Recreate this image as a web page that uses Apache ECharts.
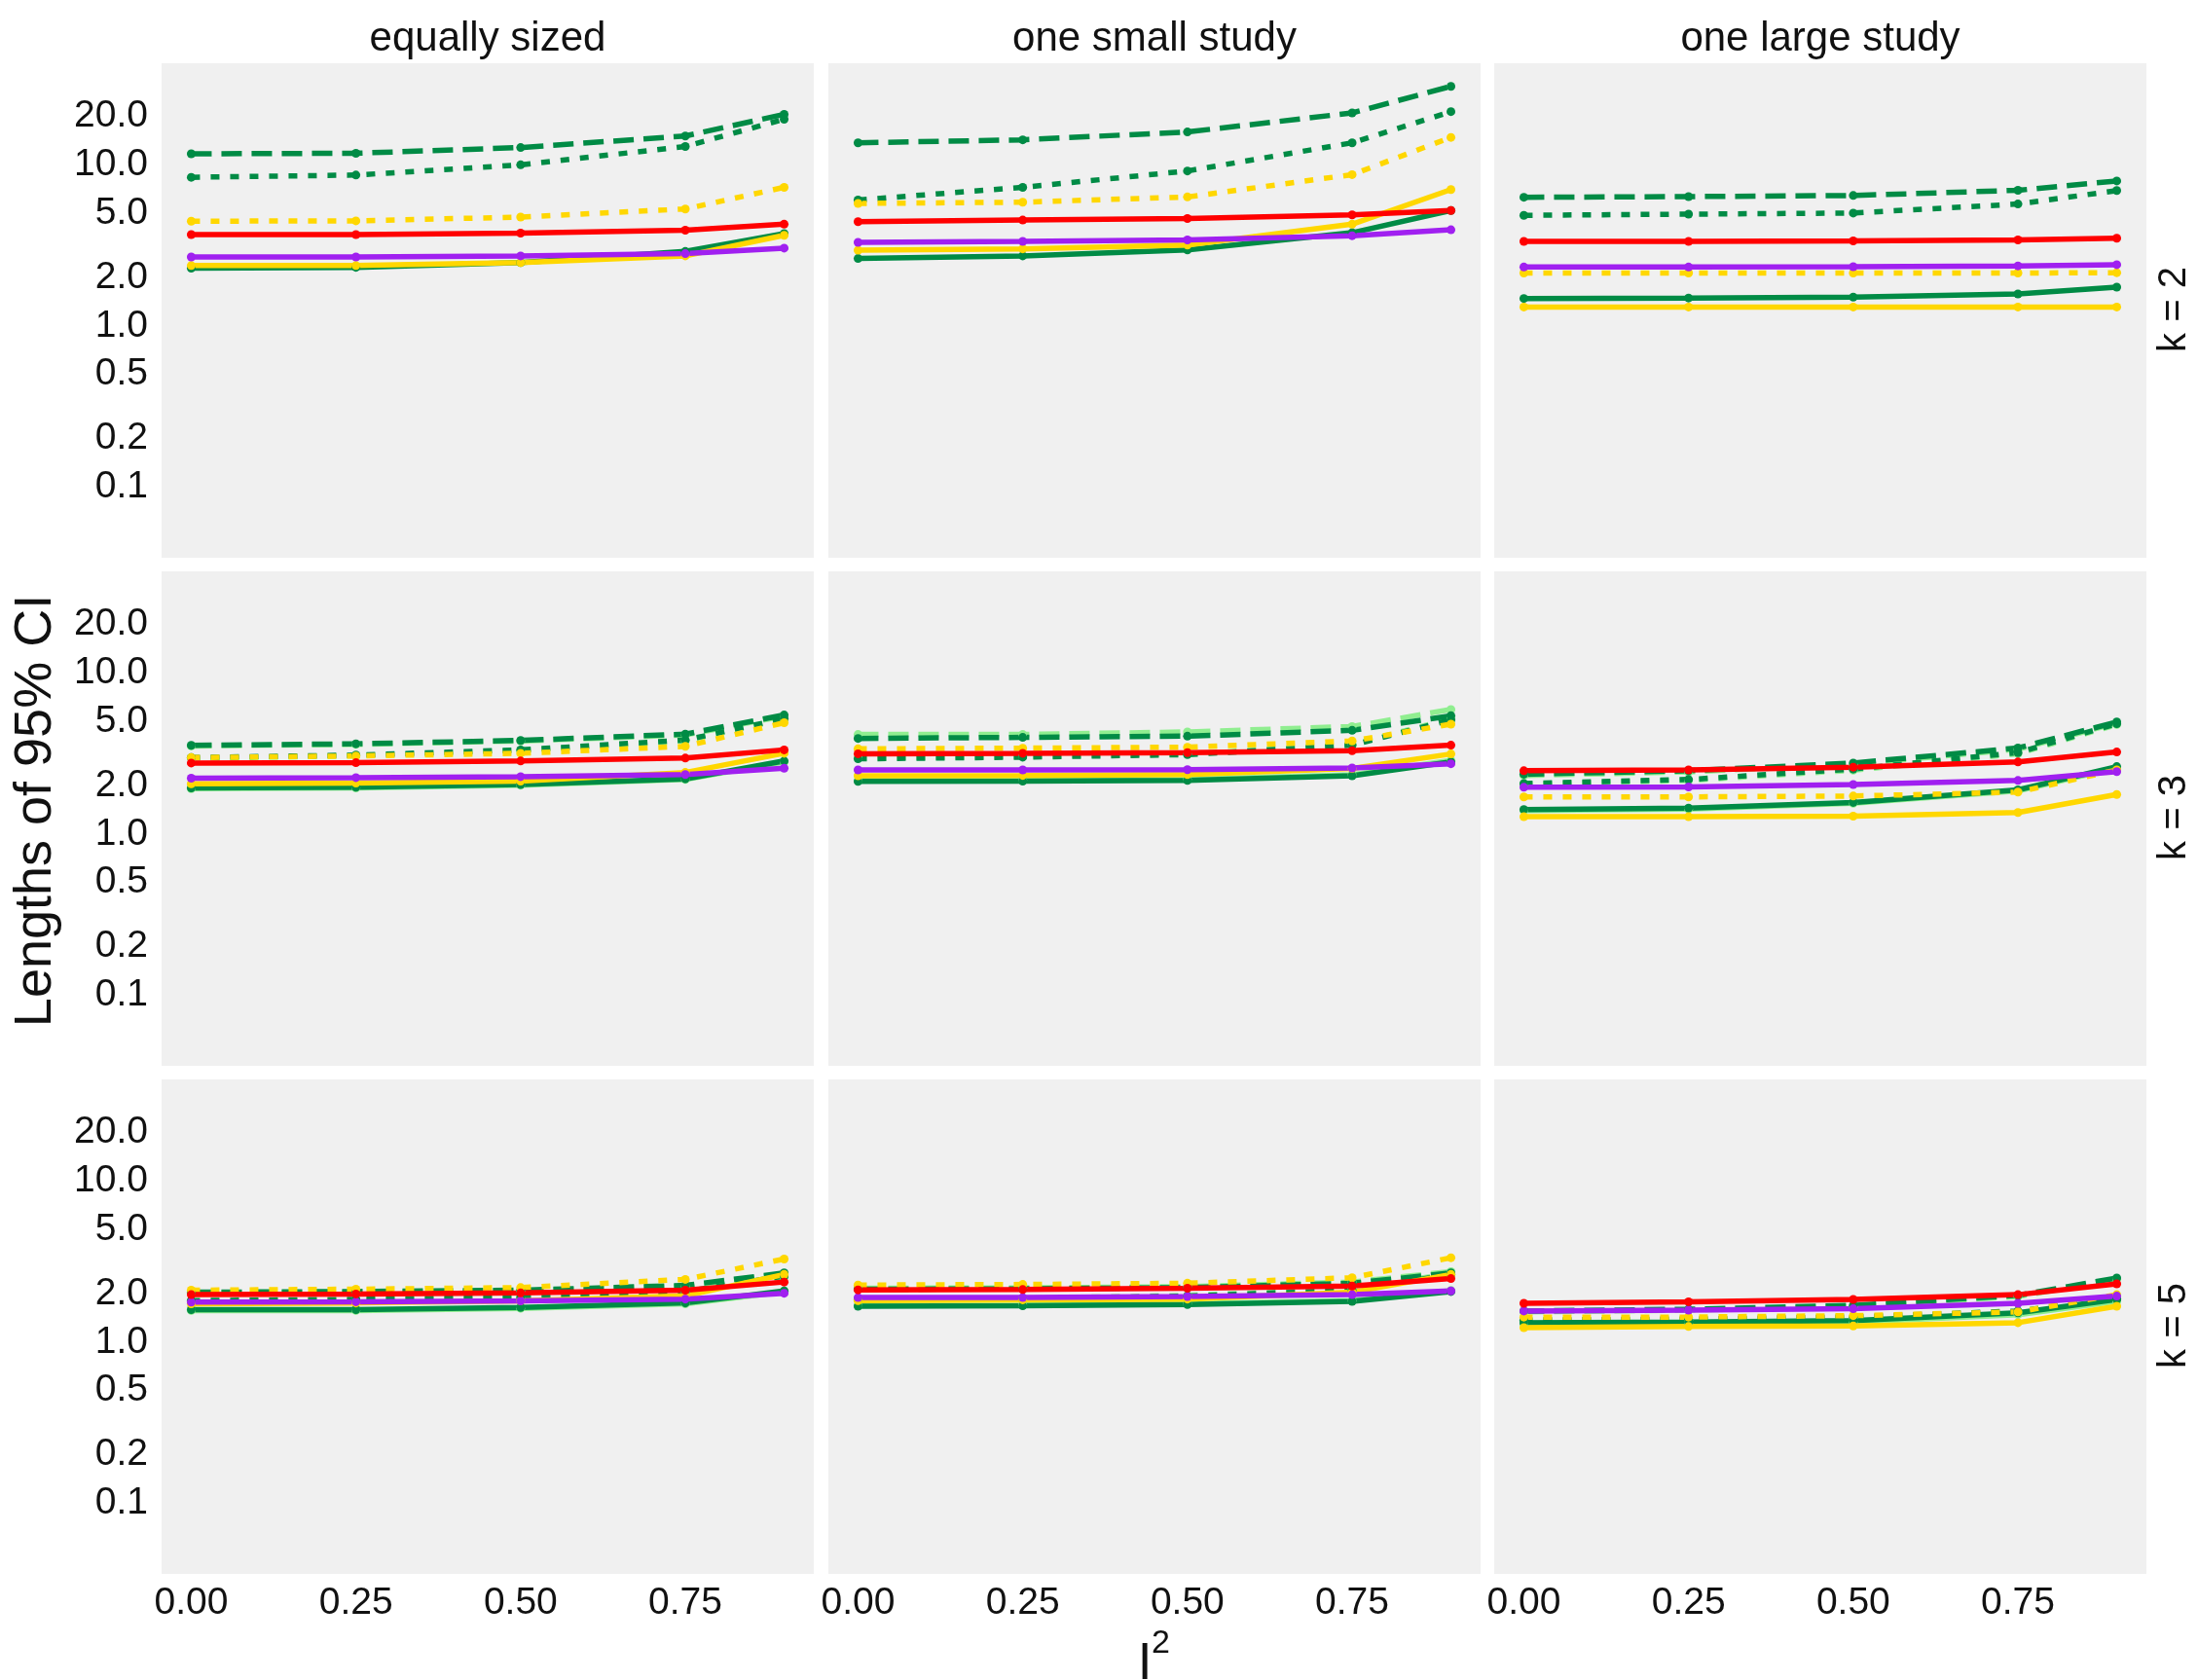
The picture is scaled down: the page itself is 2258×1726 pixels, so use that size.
<!DOCTYPE html>
<html><head><meta charset="utf-8">
<script src="https://cdn.jsdelivr.net/npm/echarts@6/dist/echarts.min.js"></script>
<style>html,body{margin:0;padding:0;background:#fff}#c{width:2258px;height:1726px}</style>
</head><body><div id="c"></div><script>
// ---- data ----
const xValues = [0, 0.25, 0.5, 0.75, 0.9];
const xTickValues = [0, 0.25, 0.5, 0.75];
const yTickValues = [0.1, 0.2, 0.5, 1, 2, 5, 10, 20];
const designLabels = ['equally sized', 'one small study', 'one large study'];
const kLabels = ['k = 2', 'k = 3', 'k = 5'];
// panel order: k=2 (equally, small, large), k=3 (...), k=5 (...)
const darkGreenDashed = [
  [11.7, 11.8, 12.8, 15.1, 20.6], [13.7, 14.3, 16.0, 21.0, 30.7], [6.29, 6.35, 6.45, 6.95, 7.94],
  [3.55, 3.63, 3.81, 4.17, 5.48], [3.92, 3.98, 4.05, 4.40, 5.42], [2.35, 2.47, 2.76, 3.42, 4.96],
  [2.04, 2.06, 2.10, 2.25, 2.69], [2.13, 2.14, 2.18, 2.32, 2.69], [1.56, 1.60, 1.69, 1.95, 2.50]
];
const darkGreenDotted = [
  [8.37, 8.64, 10.0, 13.0, 19.2], [6.05, 7.25, 9.16, 13.7, 21.4], [4.86, 4.94, 5.02, 5.71, 6.92],
  [2.98, 3.09, 3.33, 3.83, 5.21], [2.93, 3.00, 3.11, 3.56, 5.11], [2.06, 2.18, 2.53, 3.20, 4.84],
  [1.81, 1.84, 1.90, 2.06, 2.57], [1.83, 1.85, 1.93, 2.10, 2.63], [1.37, 1.39, 1.43, 1.56, 1.86]
];
const darkGreenSolid = [
  [2.28, 2.31, 2.47, 2.90, 3.74], [2.62, 2.72, 2.96, 3.79, 5.21], [1.48, 1.49, 1.51, 1.58, 1.74],
  [1.93, 1.95, 2.03, 2.20, 2.84], [2.12, 2.13, 2.15, 2.30, 2.80], [1.42, 1.45, 1.57, 1.88, 2.62],
  [1.59, 1.59, 1.64, 1.75, 2.08], [1.67, 1.68, 1.71, 1.79, 2.06], [1.32, 1.33, 1.36, 1.52, 1.84]
];
const lightGreenDashed = [
  null, null, null,
  [3.52, 3.60, 3.78, 4.12, 5.40], [4.15, 4.15, 4.30, 4.65, 5.93], [2.31, 2.43, 2.71, 3.36, 4.88],
  [2.02, 2.04, 2.08, 2.22, 2.65], [2.16, 2.17, 2.21, 2.36, 2.74], [1.54, 1.58, 1.66, 1.92, 2.46]
];
const lightGreenDotted = [
  null, null, null,
  [2.95, 3.06, 3.30, 3.79, 5.15], [2.96, 3.03, 3.14, 3.60, 5.20], [2.03, 2.15, 2.49, 3.15, 4.78],
  [1.79, 1.82, 1.88, 2.03, 2.53], [1.85, 1.87, 1.95, 2.13, 2.67], [1.35, 1.37, 1.41, 1.53, 1.82]
];
const lightGreenSolid = [
  null, null, null,
  [1.91, 1.93, 2.01, 2.18, 2.80], [2.15, 2.16, 2.18, 2.33, 2.86], [1.40, 1.43, 1.55, 1.85, 2.58],
  [1.57, 1.57, 1.62, 1.73, 2.05], [1.69, 1.70, 1.73, 1.81, 2.09], [1.30, 1.31, 1.33, 1.48, 1.79]
];
const goldDotted = [
  [4.47, 4.49, 4.74, 5.32, 7.25], [5.76, 5.86, 6.32, 8.69, 14.8], [2.13, 2.13, 2.13, 2.13, 2.14],
  [2.98, 3.05, 3.17, 3.50, 4.91], [3.38, 3.41, 3.46, 3.78, 4.81], [1.70, 1.70, 1.72, 1.82, 2.50],
  [2.10, 2.13, 2.18, 2.45, 3.28], [2.26, 2.28, 2.32, 2.51, 3.34], [1.43, 1.43, 1.46, 1.54, 1.97]
];
const goldSolid = [
  [2.37, 2.37, 2.47, 2.72, 3.65], [2.95, 3.01, 3.18, 4.28, 7.02], [1.31, 1.31, 1.31, 1.31, 1.31],
  [2.05, 2.07, 2.13, 2.41, 3.17], [2.30, 2.31, 2.34, 2.55, 3.14], [1.28, 1.28, 1.29, 1.36, 1.76],
  [1.73, 1.75, 1.80, 1.94, 2.63], [1.81, 1.83, 1.85, 2.04, 2.63], [1.23, 1.25, 1.26, 1.32, 1.67]
];
const purpleSolid = [
  [2.68, 2.68, 2.72, 2.81, 3.04], [3.30, 3.35, 3.42, 3.63, 3.95], [2.32, 2.32, 2.33, 2.36, 2.40],
  [2.22, 2.24, 2.27, 2.34, 2.56], [2.50, 2.50, 2.51, 2.57, 2.73], [1.95, 1.96, 2.03, 2.15, 2.44],
  [1.77, 1.78, 1.80, 1.85, 2.01], [1.89, 1.89, 1.92, 1.97, 2.08], [1.56, 1.58, 1.61, 1.74, 1.93]
];
const redSolid = [
  [3.69, 3.69, 3.77, 3.93, 4.28], [4.44, 4.54, 4.64, 4.89, 5.21], [3.35, 3.35, 3.37, 3.42, 3.50],
  [2.76, 2.77, 2.84, 2.96, 3.33], [3.15, 3.17, 3.20, 3.29, 3.56], [2.47, 2.50, 2.60, 2.80, 3.23],
  [1.97, 1.99, 2.02, 2.10, 2.36], [2.11, 2.12, 2.16, 2.23, 2.48], [1.74, 1.78, 1.84, 1.97, 2.30]
];

// ---- styles / layout ----
const DASHED = [21, 10], DOTTED = [9, 11];
const seriesDefs = [
  {data: lightGreenSolid, color: '#90EE90', type: 'solid'},
  {data: lightGreenDotted, color: '#90EE90', type: DOTTED},
  {data: lightGreenDashed, color: '#90EE90', type: DASHED},
  {data: darkGreenSolid, color: '#008B45', type: 'solid'},
  {data: darkGreenDotted, color: '#008B45', type: DOTTED},
  {data: darkGreenDashed, color: '#008B45', type: DASHED},
  {data: goldSolid, color: '#FFD700', type: 'solid'},
  {data: goldDotted, color: '#FFD700', type: DOTTED},
  {data: purpleSolid, color: '#A020F0', type: 'solid'},
  {data: redSolid, color: '#FF0000', type: 'solid'}
];
const colLefts = [166, 851, 1535];
const rowTops = [65, 587, 1109];
const PW = 670, PH = 508;
const FONT = '"Liberation Sans", Arial, Helvetica, sans-serif';

const grid = [], xAxis = [], yAxis = [], series = [], graphic = [];
for (let r = 0; r < 3; r++) {
  for (let c = 0; c < 3; c++) {
    const p = r * 3 + c;
    grid.push({left: colLefts[c], top: rowTops[r], width: PW, height: PH, show: true,
      backgroundColor: '#F0F0F0', borderWidth: 0, containLabel: false, outerBoundsMode: 'none'});
    xAxis.push({type: 'value', gridIndex: p, min: -0.045, max: 0.945,
      axisLine: {show: false}, axisTick: {show: false}, splitLine: {show: false}, minorTick: {show: false},
      axisLabel: {show: r === 2, customValues: xTickValues, formatter: v => Number(v).toFixed(2),
        fontSize: 39, color: '#111', margin: 11, fontFamily: FONT}});
    yAxis.push({type: 'log', logBase: 10, gridIndex: p, min: 0.0364, max: 42.7,
      axisLine: {show: false}, axisTick: {show: false}, splitLine: {show: false}, minorTick: {show: false},
      minorSplitLine: {show: false},
      axisLabel: {show: c === 0, customValues: yTickValues, formatter: v => Number(v).toFixed(1),
        fontSize: 39, color: '#111', margin: 14, fontFamily: FONT}});
    seriesDefs.forEach(d => {
      const vals = d.data[p];
      if (!vals) return;
      series.push({type: 'line', xAxisIndex: p, yAxisIndex: p,
        data: xValues.map((x, i) => [x, vals[i]]),
        symbol: 'circle', symbolSize: 9, showSymbol: true,
        lineStyle: {color: d.color, width: 5.5, type: d.type, cap: 'butt'},
        itemStyle: {color: d.color, borderWidth: 0},
        emphasis: {disabled: true}, silent: true});
    });
  }
}
designLabels.forEach((t, c) => graphic.push({type: 'text', x: colLefts[c] + PW / 2, y: 40,
  style: {text: t, font: '42px ' + FONT, fill: '#111', align: 'center', verticalAlign: 'middle'}}));
kLabels.forEach((t, r) => graphic.push({type: 'text', x: 2234, y: rowTops[r] + PH / 2 - 1,
  rotation: Math.PI / 2,
  style: {text: t, font: '40px ' + FONT, fill: '#111', align: 'center', verticalAlign: 'middle'}}));
graphic.push({type: 'text', x: 37, y: 833, rotation: Math.PI / 2,
  style: {text: 'Lengths of 95% CI', font: '54px ' + FONT, fill: '#111', align: 'center', verticalAlign: 'middle'}});
graphic.push({type: 'text', x: 1176, y: 1710,
  style: {text: 'I', font: '53px ' + FONT, fill: '#111', align: 'center', verticalAlign: 'middle'}});
graphic.push({type: 'text', x: 1183, y: 1689,
  style: {text: '2', font: '34px ' + FONT, fill: '#111', align: 'left', verticalAlign: 'middle'}});

const chart = echarts.init(document.getElementById('c'), null, {renderer: 'canvas'});
chart.setOption({animation: false, backgroundColor: '#fff', grid, xAxis, yAxis, series, graphic});
</script></body></html>
